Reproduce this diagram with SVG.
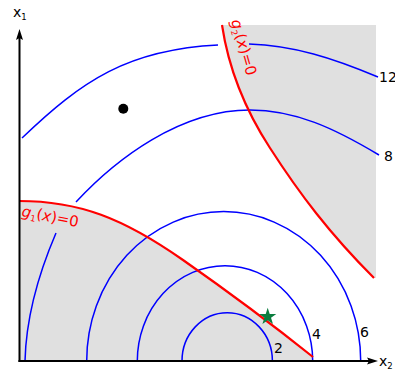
<svg xmlns="http://www.w3.org/2000/svg" width="395" height="371" viewBox="0 0 395 371">
<style>
.region{fill:#e0e0e0;stroke:none}
.contour{fill:none;stroke:#0000ff;stroke-width:1.5}
.constraint{fill:none;stroke:#ff0000;stroke-width:2.2}
.axis{fill:none;stroke:#000;stroke-width:2}
.head{fill:#000;stroke:none}
.lbl{font-family:"DejaVu Sans",sans-serif;font-size:14px;fill:#000}
.clbl{font-family:"DejaVu Sans",sans-serif;font-size:15px;fill:#ff0000}
.sub{font-size:8.5px}
</style>
<rect width="395" height="371" fill="#fff"/>
<g id="feasible-regions">
<path class="region" d="M19,201 C79,201 123,218 183,260 C223,288 273,325 313,357 L313,361 L19,361 Z"/>
<path class="region" d="M222,25 L376,25 L376,278 L374,278 C329,233 299,193 270,148 C244,108 228,65 222,25 Z"/>
</g>
<g id="connectors">
<path id="contour-2" class="contour" d="M182,361 A45.2,48.3 0 0 1 272.4,361"/>
<path id="contour-4" class="contour" d="M137.3,361 A87.7,95.3 0 0 1 312.7,361"/>
<path id="contour-6" class="contour" d="M86.7,361 A137,149.4 0 0 1 360.7,361"/>
<path id="contour-8a" class="contour" d="M25,361 C26,320 38,275 56,233"/>
<path id="contour-8b" class="contour" d="M76,202 C116,159 180,110 250,110 C295,110 334,128 379,155"/>
<path id="contour-12a" class="contour" d="M22,138 C82,80.4 128,49.5 218,45"/>
<path id="contour-12b" class="contour" d="M249,44 C294,45.5 333,58 378,77"/>
<path id="g1" class="constraint" d="M19,201 C79,201 123,218 183,260 C223,288 273,325 313,357"/>
<path id="g2" class="constraint" d="M222,25 C228,65 244,108 270,148 C299,193 329,233 374,278"/>
</g>
<g id="axes">
<line class="axis" x1="19.5" y1="362" x2="19.5" y2="36"/>
<path class="head" d="M19.5,29 L23,40 L19.5,38 L16,40 Z"/>
<line class="axis" x1="18.5" y1="361" x2="372" y2="361"/>
<path class="head" d="M378,361 L367,364.5 L369,361 L367,357.5 Z"/>
<text class="lbl" x="13" y="17" font-size="13">x<tspan class="sub" dy="3">1</tspan></text>
<text class="lbl" x="379" y="366" font-size="13">x<tspan class="sub" dy="3">2</tspan></text>
</g>
<g id="labels">
<text class="lbl" x="274" y="353">2</text>
<text class="lbl" x="312" y="339">4</text>
<text class="lbl" x="360" y="337">6</text>
<text class="lbl" x="384" y="161" font-size="15">8</text>
<text class="lbl" x="379" y="82" font-size="15">12</text>
<text class="clbl" transform="translate(21,216) rotate(11)"><tspan font-style="italic">g</tspan><tspan class="sub" dy="3">1</tspan><tspan dy="-3">(</tspan><tspan font-style="italic">x</tspan>)=0</text>
<text class="clbl" transform="translate(231,21) rotate(74)"><tspan font-style="italic">g</tspan><tspan class="sub" dy="3">2</tspan><tspan dy="-3">(</tspan><tspan font-style="italic">x</tspan>)=0</text>
</g>
<g id="point-dot"><circle cx="123.3" cy="108.7" r="5" fill="#000"/></g>
<g id="point-star"><polygon fill="#0b7d3e" points="267.7,307.7 269.7,313.9 276.3,313.9 271,317.8 273,324 267.7,320.15 262.4,324 264.4,317.8 259.1,313.9 265.7,313.9"/></g>
</svg>
